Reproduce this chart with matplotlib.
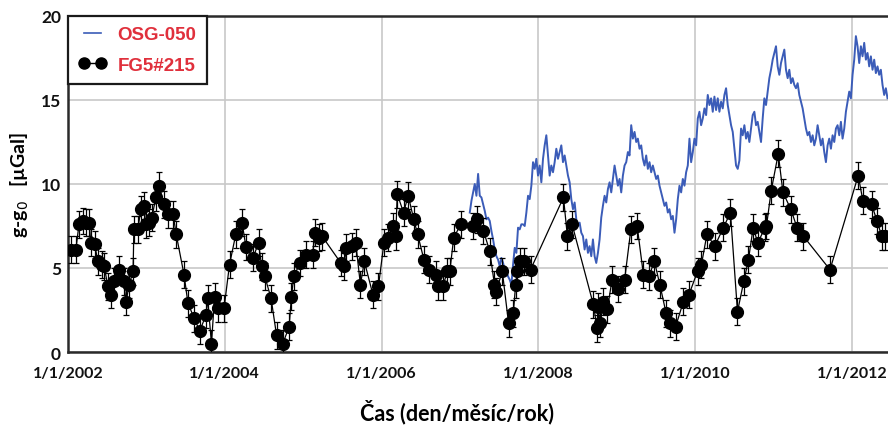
import numpy as np
import matplotlib
matplotlib.use('Agg')
import matplotlib.pyplot as plt
from matplotlib.lines import Line2D

# FG5#215 absolute gravity measurements (decimal year, g-g0 in uGal)
fg5_year = [2002.04, 2002.10, 2002.14, 2002.19, 2002.23, 2002.27, 2002.29, 2002.34, 2002.38, 2002.43,
            2002.46, 2002.51, 2002.55, 2002.59, 2002.65, 2002.71, 2002.74, 2002.78, 2002.83, 2002.84,
            2002.89, 2002.93, 2002.97, 2002.99, 2003.03, 2003.07, 2003.12, 2003.16, 2003.22, 2003.27,
            2003.34, 2003.38, 2003.48, 2003.53, 2003.61, 2003.68, 2003.76, 2003.78, 2003.83, 2003.87,
            2003.91, 2003.99, 2004.06, 2004.14, 2004.22, 2004.27, 2004.36, 2004.43, 2004.47, 2004.51,
            2004.59, 2004.66, 2004.74, 2004.82, 2004.85, 2004.88, 2004.96, 2005.04, 2005.12, 2005.15,
            2005.20, 2005.24, 2005.48, 2005.52, 2005.55, 2005.62, 2005.67, 2005.73, 2005.78, 2005.89,
            2005.96, 2006.03, 2006.08, 2006.15, 2006.18, 2006.20, 2006.28, 2006.34, 2006.41, 2006.46,
            2006.54, 2006.61, 2006.70, 2006.72, 2006.78, 2006.84, 2006.87, 2006.92, 2007.01, 2007.16,
            2007.22, 2007.30, 2007.38, 2007.44, 2007.46, 2007.54, 2007.62, 2007.68, 2007.71, 2007.73,
            2007.76, 2007.82, 2007.90, 2008.32, 2008.37, 2008.43, 2008.70, 2008.75, 2008.76, 2008.79,
            2008.83, 2008.88, 2008.94, 2009.02, 2009.10, 2009.18, 2009.26, 2009.34, 2009.41, 2009.48,
            2009.55, 2009.63, 2009.68, 2009.75, 2009.85, 2009.92, 2010.03, 2010.08, 2010.15, 2010.25,
            2010.36, 2010.45, 2010.54, 2010.62, 2010.68, 2010.74, 2010.80, 2010.89, 2010.91, 2010.97,
            2011.06, 2011.12, 2011.22, 2011.30, 2011.38, 2011.72, 2012.08, 2012.14, 2012.25, 2012.32,
            2012.38, 2012.42]
fg5_g = [6.1, 6.1, 7.6, 7.8, 7.7, 7.7, 6.5, 6.4, 5.4, 5.2,
         5.1, 3.9, 3.4, 4.2, 4.9, 4.2, 3.0, 4.0, 4.8, 7.3,
         7.3, 8.5, 8.7, 7.6, 7.7, 8.0, 9.2, 9.9, 8.8, 8.2,
         8.2, 7.0, 4.6, 2.9, 2.0, 1.25, 2.2, 3.2, 0.5, 3.3,
         2.6, 2.6, 5.2, 7.0, 7.7, 6.25, 5.6, 6.5, 5.1, 4.5,
         3.2, 1.0, 0.5, 1.5, 3.3, 4.5, 5.3, 5.8, 5.8, 7.1,
         6.8, 6.9, 5.3, 5.1, 6.2, 6.3, 6.5, 4.0, 5.4, 3.4,
         3.9, 6.5, 6.8, 7.5, 6.9, 9.4, 8.3, 9.3, 7.9, 7.0,
         5.5, 4.9, 4.6, 3.9, 3.9, 4.8, 4.8, 6.8, 7.6, 7.5,
         7.9, 7.2, 6.0, 4.0, 3.6, 4.8, 1.7, 2.3, 4.0, 4.8,
         5.4, 5.4, 4.9, 9.2, 6.9, 7.6, 2.85, 1.4, 2.7, 1.7,
         3.0, 2.55, 4.3, 3.75, 4.3, 7.3, 7.5, 4.6, 4.5, 5.4,
         4.0, 2.3, 1.7, 1.5, 3.0, 3.4, 4.8, 5.2, 7.0, 6.3,
         7.4, 8.3, 2.4, 4.2, 5.5, 7.4, 6.5, 7.4, 7.5, 9.6,
         11.8, 9.5, 8.5, 7.4, 6.9, 4.9, 10.5, 9.0, 8.8, 7.8,
         6.9, 6.9]
fg5_err = 0.8

# OSG-050 superconducting gravimeter record, regular sampling from osg_start
osg_start = 2007.125
osg_step = 0.02123
osg_g = [8.3, 9.0, 9.5, 10.0, 9.3, 10.6, 9.3, 9.2, 8.8, 8.4,
         7.9, 8.0, 7.8, 7.2, 6.7, 6.1, 5.7, 5.5, 5.1, 5.6,
         5.3, 4.9, 4.8, 4.5, 4.3, 4.0, 5.2, 6.2, 5.9, 7.4,
         7.3, 7.6, 7.6, 7.5, 8.3,
         9.3, 9.1, 9.9, 11.3, 10.9, 11.5, 10.5, 11.1, 10.1, 11.5,
         12.3, 12.9, 11.7, 10.5, 11.1, 10.7, 11.3, 12.1, 11.5, 11.9,
         12.3, 11.3, 11.7, 11.1, 10.5, 10.1, 9.1, 8.5, 8.9, 7.9,
         7.5, 7.7, 7.1, 6.9, 6.1, 6.7, 5.9, 6.3, 5.7, 6.7,
         5.7, 5.3, 5.9, 6.7,
         8.0,
         8.7, 9.3, 8.9, 9.7, 10.1, 9.5, 10.3, 11.1, 10.5, 9.9,
         10.3, 9.5, 10.5, 11.1, 11.3, 11.9, 11.7, 13.5, 12.7, 13.1,
         12.5, 12.7, 12.1, 12.3, 11.5, 11.1, 11.7, 10.9, 11.3, 10.7,
         11.1, 10.7, 10.3, 10.5, 9.9, 9.5, 9.1, 8.7, 8.9, 8.3,
         8.5, 7.9, 8.1, 7.1, 7.9, 9.1, 9.9, 9.5, 10.3, 9.9,
         10.7, 11.1, 12.7, 11.3, 11.9, 12.7, 12.3, 13.9, 14.3, 13.5,
         13.9, 14.5, 14.1, 15.3, 14.7, 15.1, 14.3, 15.2, 14.4, 15.1,
         14.3, 14.9, 14.5, 15.3, 15.7, 14.7, 14.1, 13.5, 13.1, 12.1,
         11.1,
         10.9, 11.4,
         13.3, 12.9, 13.5, 12.7, 13.1, 12.5, 13.3, 14.1, 14.3, 13.5,
         13.7, 13.1, 12.5, 13.9, 15.1, 14.7, 15.5, 16.3, 16.8, 17.4,
         17.8, 18.2, 17.0, 16.5, 17.2, 17.6, 18.0, 16.8, 16.3, 16.8,
         16.0, 16.3, 15.9, 15.7, 16.0, 15.3, 14.9, 14.5, 13.9, 13.3,
         12.9, 13.1, 12.5, 12.9, 12.3, 12.7, 13.5, 12.9, 12.3, 12.7,
         11.9, 11.3, 12.3, 12.7, 12.1, 12.9, 12.5, 13.3, 13.5, 12.9,
         13.7, 12.7, 13.3, 14.3, 14.9, 15.5, 15.1, 16.5, 17.4, 18.8,
         18.2, 17.2, 18.2, 17.6, 18.4, 17.4, 17.8, 17.0, 17.6, 16.8,
         17.4, 16.6, 17.0, 16.5, 16.8, 15.9, 15.3, 15.7, 15.1]
osg_year = osg_start + osg_step * np.arange(len(osg_g))

x_ticks = [2002, 2004, 2006, 2008, 2010, 2012]
x_labels = ['1/1/2002', '1/1/2004', '1/1/2006', '1/1/2008', '1/1/2010', '1/1/2012']
y_ticks = [0, 5, 10, 15, 20]

plt.rcParams['font.family'] = ['Lato', 'DejaVu Sans']

fig = plt.figure(figsize=(8.88, 4.27), dpi=100)
ax = fig.add_axes([0.0766, 0.1733, 0.9234, 0.7869])

ax.plot(osg_year, osg_g, color='#3b5cb8', lw=1.4, zorder=2)
ax.errorbar(fg5_year, fg5_g, yerr=fg5_err, fmt='-o', color='black', ms=8.5,
            lw=0.9, elinewidth=0.9, capsize=2.2, capthick=0.9, zorder=3)

ax.set_xlim(2002, 2012.46)
ax.set_ylim(0, 20)
ax.set_xticks(x_ticks)
ax.set_xticklabels(x_labels)
ax.set_yticks(y_ticks)
ax.tick_params(length=0, colors='#111111')
ax.tick_params(axis='x', labelsize=11.5, pad=10)
ax.tick_params(axis='y', labelsize=12.5, pad=5)
for lbl in ax.get_xticklabels() + ax.get_yticklabels():
    lbl.set_fontweight('bold')

ax.grid(True, color='#c8c8c8', lw=1.2)
ax.set_axisbelow(True)
for side in ['left', 'bottom', 'top']:
    ax.spines[side].set_color('#2a2a2a')
    ax.spines[side].set_linewidth(1.8)
ax.spines['right'].set_visible(False)

ax.set_xlabel('Čas (den/měsíc/rok)', fontsize=15.5, fontweight='bold')
ax.xaxis.set_label_coords(0.474, -0.14)
ax.set_ylabel('g-g$_0$   [µGal]', fontsize=14, fontweight='bold', labelpad=7)

handles = [Line2D([], [], color='#3b5cb8', lw=1.2),
           Line2D([], [], color='black', marker='o', ms=8, lw=1)]
leg = ax.legend(handles, ['OSG-050', 'FG5#215'], loc='upper left', borderaxespad=0,
                fancybox=False, framealpha=1, edgecolor='#1a1a1a', numpoints=2,
                handlelength=1.5, handletextpad=0.6,
                prop={'family': 'Liberation Sans', 'weight': 'bold', 'size': 13.5},
                labelcolor='#e0303c', borderpad=0.55, labelspacing=0.7)
leg.get_frame().set_linewidth(1.6)

fig.savefig('out.png', dpi=100)
